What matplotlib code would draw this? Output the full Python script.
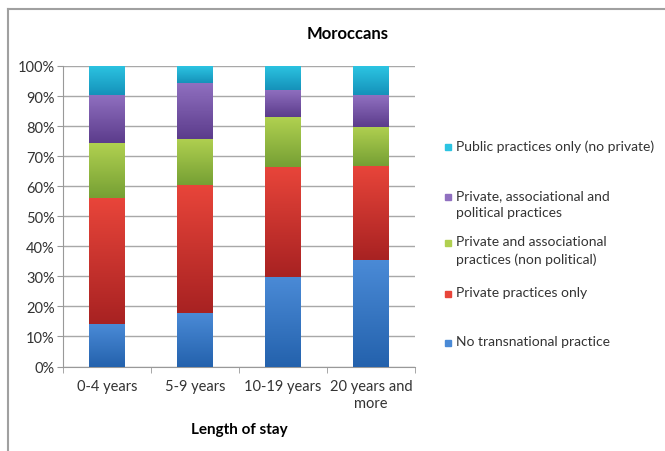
import numpy as np
import matplotlib.pyplot as plt
from matplotlib.lines import Line2D
from matplotlib.patches import Rectangle
from matplotlib.colors import LinearSegmentedColormap

plt.rcParams["font.family"] = ["Lato", "DejaVu Sans"]

categories = ["0-4 years", "5-9 years", "10-19 years", "20 years and\nmore"]
series = [
    "No transnational practice",
    "Private practices only",
    "Private and associational\npractices (non political)",
    "Private, associational and\npolitical practices",
    "Public practices only (no private)",
]
no_practice = [14.3, 17.7, 29.8, 35.4]
private_only = [41.8, 42.6, 36.7, 31.3]
private_assoc = [18.2, 15.5, 16.5, 13.1]
private_assoc_pol = [16.0, 18.7, 9.0, 10.6]
public_only = [9.7, 5.5, 8.0, 9.6]
values = [no_practice, private_only, private_assoc, private_assoc_pol, public_only]

# (top, bottom) colours for the Excel-style gradient
grads = [
    ("#4a8ad6", "#2462ad"),
    ("#e8453a", "#a82222"),
    ("#b0d050", "#76a034"),
    ("#9070c0", "#5c3c8c"),
    ("#2cc4e2", "#1592ba"),
]

W, H = 665, 452
fig = plt.figure(figsize=(W / 100, H / 100), dpi=100)
ax = fig.add_axes([63 / W, 1 - 367.5 / H, 352 / W, 300.5 / H])

x = np.arange(len(categories))
bottom = np.zeros(len(categories))
for vals, (top_c, bot_c) in zip(values, grads):
    bars = ax.bar(x, vals, width=0.4, bottom=bottom, color=bot_c, zorder=2)
    cmap = LinearSegmentedColormap.from_list("g", [bot_c, top_c])
    for b in bars:
        x0, y0 = b.get_x(), b.get_y()
        w, h = b.get_width(), b.get_height()
        im = ax.imshow(np.linspace(0, 1, 64).reshape(-1, 1), cmap=cmap,
                       extent=[x0, x0 + w, y0, y0 + h], origin="lower",
                       aspect="auto", zorder=3)
        im.set_clip_path(b)
    bottom += np.array(vals)

ax.set_xlim(-0.5, len(categories) - 0.5)
ax.set_ylim(0, 100)
ax.set_yticks(np.arange(0, 101, 10))
ax.set_yticklabels([f"{v}%" for v in range(0, 101, 10)])
ax.yaxis.grid(True, color="#a8a8a8", linewidth=1, zorder=0)
ax.set_axisbelow(True)
ax.set_xticks(x)
ax.set_xticklabels(categories, fontsize=10.5, color="#333333", linespacing=1.25)
ax.set_xticks(np.arange(-0.5, len(categories), 1), minor=True)
ax.tick_params(axis="x", which="major", length=0, pad=9)
ax.tick_params(axis="x", which="minor", length=4, color="#999999")
ax.tick_params(axis="y", length=4, color="#999999", labelsize=10.5,
               labelcolor="#333333", pad=2)
for s in ["top", "right"]:
    ax.spines[s].set_visible(False)
for s in ["left", "bottom"]:
    ax.spines[s].set_color("#999999")

ax.set_xlabel("Length of stay", fontsize=11, fontweight="bold", labelpad=9)
fig.text(348 / W, 1 - 34 / H, "Moroccans", ha="center", va="center",
         fontsize=12, fontweight="bold")

# legend drawn by hand to follow the Excel spacing (top entry = last series)
first_line_y = [344, 295, 244, 198, 148]
for name, (top_c, _), yy in zip(series, grads, first_line_y):
    fig.add_artist(Rectangle((445 / W, 1 - (yy + 3) / H), 6 / W, 6 / H,
                             transform=fig.transFigure, color=top_c))
    fig.text(456 / W, 1 - (yy - 7.5) / H, name, ha="left", va="top",
             fontsize=10, color="#333333", linespacing=1.45)

# outer frame (left and top edges visible)
fig.add_artist(Line2D([7.5 / W, 7.5 / W], [0, 1 - 9.5 / H],
                      transform=fig.transFigure, color="#a0a0a0", lw=1.5))
fig.add_artist(Line2D([7.5 / W, 1], [1 - 9.5 / H, 1 - 9.5 / H],
                      transform=fig.transFigure, color="#a0a0a0", lw=1.5))

fig.savefig("out.png", dpi=100)
